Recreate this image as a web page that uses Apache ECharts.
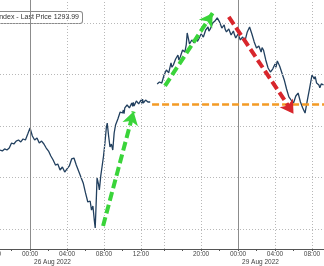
<!DOCTYPE html>
<html>
<head>
<meta charset="utf-8">
<script src="https://cdn.jsdelivr.net/npm/echarts@6/dist/echarts.min.js"></script>
<style>
  html, body { margin: 0; padding: 0; background: #fff; }
  #chart { width: 324px; height: 266px; }
</style>
</head>
<body>
<div id="chart"></div>
<script>
// x = trading hours since Thu 20:00 (weekend gap removed), y = index price
const fridayPrices = [
  [0.75, 1287.67], [1.0, 1287.58], [1.25, 1287.77], [1.5, 1287.67], [1.75, 1287.86],
  [2.0, 1288.35], [2.25, 1288.25], [2.5, 1288.54], [2.75, 1288.64], [3.0, 1288.45],
  [3.25, 1288.74], [3.5, 1288.64], [3.75, 1289.22], [4.0, 1289.81], [4.25, 1289.03],
  [4.5, 1288.64], [4.75, 1288.83], [5.0, 1288.35], [5.25, 1288.54], [5.5, 1288.25],
  [5.75, 1287.86], [6.0, 1287.57], [6.25, 1287.09], [6.5, 1286.70], [6.75, 1286.21],
  [7.0, 1286.31], [7.25, 1285.73], [7.5, 1286.02], [7.75, 1285.53], [8.0, 1285.83],
  [8.25, 1286.12], [8.5, 1286.80], [8.75, 1286.89], [9.0, 1286.21], [9.25, 1285.63],
  [9.5, 1285.05], [9.75, 1284.47], [10.0, 1283.50], [10.25, 1282.62], [10.5, 1282.72],
  [10.65, 1281.84], [10.8, 1282.23], [10.95, 1280.87], [11.05, 1280.10], [11.15, 1282.43],
  [11.25, 1284.95], [11.4, 1284.37], [11.5, 1283.79], [11.65, 1285.15], [11.8, 1286.12],
  [11.95, 1287.09], [12.1, 1288.35], [12.25, 1289.81], [12.35, 1290.29], [12.5, 1289.03],
  [12.65, 1287.96], [12.8, 1288.25], [12.95, 1287.67], [13.1, 1289.32], [13.25, 1290.10],
  [13.5, 1290.68], [13.75, 1291.36], [14.0, 1291.26], [14.1, 1291.55], [14.17, 1291.20],
  [14.25, 1291.75], [14.5, 1292.04], [14.75, 1291.75], [15.0, 1292.23], [15.1, 1291.90],
  [15.17, 1292.30], [15.25, 1291.94], [15.5, 1292.43], [15.75, 1292.14], [16.0, 1292.52],
  [16.1, 1292.20], [16.17, 1292.60], [16.25, 1292.23], [16.5, 1292.52], [16.75, 1292.33],
  [17.0, 1292.33]
];

const mondayPrices = [
  [17.75, 1294.08], [18.0, 1294.27], [18.25, 1294.17], [18.5, 1294.95], [18.75, 1295.44],
  [19.0, 1295.15], [19.25, 1296.12], [19.35, 1295.70], [19.5, 1295.92], [19.75, 1296.50],
  [20.0, 1296.89], [20.1, 1296.40], [20.25, 1296.70], [20.5, 1297.38], [20.75, 1297.18],
  [20.9, 1297.90], [21.0, 1299.03], [21.25, 1297.96], [21.5, 1298.35], [21.75, 1298.06],
  [22.0, 1298.74], [22.1, 1298.20], [22.25, 1298.45], [22.5, 1298.93], [22.75, 1298.64],
  [23.0, 1299.32], [23.25, 1299.61], [23.35, 1299.20], [23.5, 1299.42], [23.75, 1300.00],
  [24.0, 1300.19], [24.25, 1300.49], [24.5, 1300.10], [24.75, 1299.51], [25.0, 1299.81],
  [25.1, 1299.40], [25.25, 1299.13], [25.5, 1299.42], [25.75, 1298.83], [26.0, 1299.22],
  [26.1, 1298.90], [26.25, 1298.54], [26.5, 1298.93], [26.75, 1298.35], [27.0, 1298.64],
  [27.25, 1298.25], [27.5, 1299.13], [27.75, 1299.61], [28.0, 1298.93], [28.25, 1298.16],
  [28.5, 1297.57], [28.75, 1297.77], [29.0, 1297.18], [29.1, 1297.60], [29.25, 1297.38],
  [29.5, 1296.41], [29.75, 1295.63], [30.0, 1295.24], [30.25, 1295.53], [30.5, 1296.02],
  [30.6, 1295.70], [30.75, 1296.31], [31.0, 1295.83], [31.25, 1295.15], [31.5, 1294.47],
  [31.75, 1293.59], [32.0, 1292.82], [32.25, 1292.52], [32.5, 1292.23], [32.75, 1292.91],
  [33.0, 1293.20], [33.25, 1292.33], [33.5, 1291.75], [33.75, 1291.26], [34.0, 1292.52],
  [34.25, 1293.69], [34.5, 1294.95], [34.75, 1294.56], [34.85, 1294.80], [35.0, 1294.17],
  [35.25, 1293.98], [35.35, 1293.70], [35.5, 1294.08], [35.75, 1293.99]
];

const timeTicks = [4, 8, 12, 16, 22.5, 26.5, 30.5, 34.5];
const timeLabels = ['00:00', '04:00', '08:00', '12:00', '20:00', '00:00', '04:00', '08:00'];
const minorTicks = [2, 4, 6, 8, 10, 12, 14, 16, 18.5, 20.5, 22.5, 24.5, 26.5, 28.5, 30.5, 32.5, 34.5];
const dayTicks = [4, 26.5];
const dayLabels = ['26 Aug 2022', '29 Aug 2022'];
const dotTimes = [8, 12, 16, 18.5, 22.5, 30.5, 34.5];
const priceLevels = [1280, 1285, 1290, 1295, 1300];

const fridayClose = 1292.15;
const lastPrice = 1293.99;
const upArrows = [
  [[11.9, 1280.3], [15.2, 1291.4]],
  [[18.6, 1293.9], [23.75, 1300.95]]
];
const downArrow = [[25.5, 1300.6], [32.5, 1291.2]];

let chart = echarts.init(document.getElementById('chart'));

const grey = '#b8b8b8';
const arrowLine = (pair, color) => [
  { coord: pair[0], lineStyle: { color: color } },
  { coord: pair[1] }
];

let option = {
  animation: false,
  grid: { left: 0, right: 0, top: 0, bottom: 17, containLabel: false, outerBoundsMode: 'none' },
  xAxis: [{
    type: 'value',
    min: 0.75,
    max: 35.8,
    axisLine: { lineStyle: { color: '#555', width: 1 } },
    axisTick: { customValues: minorTicks, length: 2, lineStyle: { color: '#555' } },
    axisLabel: {
      customValues: timeTicks,
      margin: 2,
      fontSize: 6.5,
      fontFamily: 'Liberation Sans',
      color: '#444',
      formatter: (v) => timeLabels[timeTicks.indexOf(v)]
    },
    splitLine: { show: false }
  }, {
    type: 'value',
    position: 'bottom',
    min: 0.75,
    max: 35.8,
    axisLine: { show: false },
    axisTick: { show: false },
    axisLabel: {
      customValues: dayTicks,
      margin: 10,
      align: 'left',
      padding: [0, 0, 0, 4],
      fontSize: 6.5,
      fontFamily: 'Liberation Sans',
      color: '#444',
      formatter: (v) => dayLabels[dayTicks.indexOf(v)]
    },
    splitLine: { show: false }
  }],
  yAxis: {
    type: 'value',
    min: 1278.06,
    max: 1302.23,
    axisLine: { show: false },
    axisTick: { show: false },
    axisLabel: { show: false },
    splitLine: { show: false }
  },
  series: [
    {
      // grid lines
      type: 'line',
      data: [],
      silent: true,
      markLine: {
        silent: true,
        symbol: 'none',
        label: { show: false },
        lineStyle: { color: grey, type: [1, 2], width: 1 },
        data: priceLevels.map(v => ({ yAxis: v }))
          .concat(dotTimes.map(v => ({ xAxis: v })))
          .concat(dayTicks.map(v => ({ xAxis: v, lineStyle: { color: '#8c8c8c', type: 'solid' } })))
      }
    },
    {
      type: 'line',
      data: fridayPrices,
      showSymbol: false,
      lineStyle: { color: '#22405f', width: 1.3 },
      markLine: {
        silent: true,
        symbol: 'none',
        label: { show: false },
        lineStyle: { color: '#f39a25', width: 2.5, type: [7, 3] },
        data: [[{ coord: [17.2, fridayClose] }, { coord: [35.8, fridayClose] }]]
      }
    },
    {
      type: 'line',
      data: mondayPrices,
      showSymbol: false,
      lineStyle: { color: '#22405f', width: 1.3 },
      markLine: {
        silent: true,
        symbol: ['none', 'arrow'],
        symbolSize: [12, 13],
        label: { show: false },
        lineStyle: { width: 4, type: [9, 4] },
        data: [
          arrowLine(upArrows[0], '#3ad43a'),
          arrowLine(upArrows[1], '#3ad43a'),
          arrowLine(downArrow, '#d8262c')
        ]
      }
    }
  ],
  graphic: [{
    type: 'text',
    x: 82,
    y: 12,
    style: {
      text: 'BBDXY Index - Last Price ' + lastPrice.toFixed(2),
      align: 'right',
      verticalAlign: 'top',
      font: '7px "Liberation Sans"',
      fill: '#333',
      backgroundColor: '#fff',
      borderColor: '#8a8a8a',
      borderWidth: 1,
      borderRadius: 2,
      padding: [2, 3, 2, 3]
    }
  }, {
    type: 'text',
    x: -7,
    y: 251,
    style: {
      text: '20:00',
      align: 'center',
      verticalAlign: 'top',
      font: '6.5px "Liberation Sans"',
      fill: '#444'
    }
  }]
};

chart.setOption(option);
</script>
</body>
</html>
